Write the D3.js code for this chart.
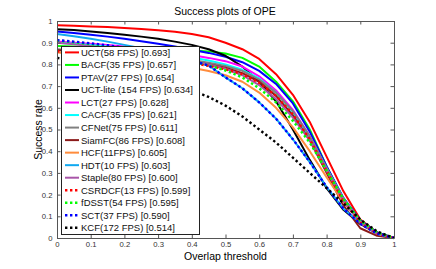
<!DOCTYPE html>
<html>
<head>
<meta charset="utf-8">
<script src="https://d3js.org/d3.v7.min.js"></script>
<style>
  body { margin: 0; background: #fff; }
  svg { display: block; font-family: "Liberation Sans", Arial, sans-serif; }
</style>
</head>
<body>
<svg id="canvas" width="436" height="269"></svg>
<script>
"use strict"

// overlap thresholds
const thresholds = [0, 0.05, 0.1, 0.15, 0.2, 0.25, 0.3, 0.35, 0.4, 0.45, 0.5,
  0.55, 0.6, 0.65, 0.7, 0.75, 0.8, 0.85, 0.9, 0.95, 1]

const trackerNames = ["UCT(58 FPS) [0.693]", "BACF(35 FPS) [0.657]", "PTAV(27 FPS) [0.654]",
  "UCT-lite (154 FPS) [0.634]", "LCT(27 FPS) [0.628]", "CACF(35 FPS) [0.621]",
  "CFNet(75 FPS) [0.611]", "SiamFC(86 FPS) [0.608]", "HCF(11FPS) [0.605]",
  "HDT(10 FPS) [0.603]", "Staple(80 FPS) [0.600]", "CSRDCF(13 FPS) [0.599]",
  "fDSST(54 FPS) [0.595]", "SCT(37 FPS) [0.590]", "KCF(172 FPS) [0.514]"]

const uct = [0.98, 0.978, 0.975, 0.972, 0.968, 0.963, 0.957, 0.95, 0.94, 0.925, 0.9, 0.87, 0.825, 0.755, 0.66, 0.535, 0.375, 0.215, 0.085, 0.025, 0]
const bacf = [0.885, 0.882, 0.879, 0.876, 0.873, 0.87, 0.868, 0.866, 0.864, 0.86, 0.85, 0.83, 0.79, 0.72, 0.63, 0.5, 0.33, 0.18, 0.08, 0.025, 0]
const ptav = [0.952, 0.945, 0.937, 0.928, 0.918, 0.907, 0.895, 0.882, 0.868, 0.853, 0.835, 0.81, 0.77, 0.71, 0.62, 0.49, 0.33, 0.185, 0.08, 0.025, 0]
const uctLite = [0.962, 0.958, 0.952, 0.945, 0.937, 0.928, 0.918, 0.905, 0.89, 0.87, 0.84, 0.79, 0.72, 0.63, 0.5, 0.36, 0.23, 0.13, 0.065, 0.02, 0]
const lct = [0.905, 0.9, 0.895, 0.889, 0.882, 0.874, 0.865, 0.855, 0.843, 0.83, 0.815, 0.79, 0.745, 0.68, 0.59, 0.47, 0.32, 0.18, 0.075, 0.02, 0]
const cacf = [0.9, 0.895, 0.889, 0.882, 0.874, 0.865, 0.855, 0.844, 0.832, 0.818, 0.8, 0.775, 0.735, 0.67, 0.58, 0.465, 0.32, 0.18, 0.075, 0.02, 0]
const cfnet = [0.87, 0.866, 0.862, 0.857, 0.851, 0.845, 0.838, 0.83, 0.82, 0.808, 0.793, 0.77, 0.73, 0.67, 0.585, 0.47, 0.32, 0.18, 0.075, 0.02, 0]
const siamfc = [0.865, 0.862, 0.858, 0.853, 0.847, 0.84, 0.832, 0.823, 0.812, 0.8, 0.785, 0.76, 0.72, 0.655, 0.565, 0.45, 0.3, 0.15, 0.045, 0.01, 0]
const hcf = [0.855, 0.85, 0.845, 0.838, 0.83, 0.82, 0.81, 0.798, 0.785, 0.77, 0.75, 0.72, 0.67, 0.6, 0.51, 0.4, 0.28, 0.165, 0.075, 0.02, 0]
const hdt = [0.94, 0.93, 0.918, 0.905, 0.89, 0.874, 0.857, 0.838, 0.818, 0.795, 0.74, 0.69, 0.625, 0.55, 0.455, 0.35, 0.235, 0.135, 0.07, 0.02, 0]
const staple = [0.9, 0.893, 0.885, 0.876, 0.866, 0.855, 0.843, 0.83, 0.815, 0.8, 0.78, 0.75, 0.705, 0.64, 0.555, 0.45, 0.31, 0.17, 0.07, 0.02, 0]
const csrdcf = [0.86, 0.856, 0.852, 0.847, 0.841, 0.834, 0.826, 0.817, 0.806, 0.793, 0.777, 0.755, 0.715, 0.655, 0.57, 0.455, 0.31, 0.17, 0.07, 0.02, 0]
const fdsst = [0.91, 0.902, 0.893, 0.883, 0.872, 0.86, 0.846, 0.831, 0.814, 0.795, 0.772, 0.74, 0.69, 0.625, 0.54, 0.44, 0.31, 0.18, 0.08, 0.025, 0]
const sct = [0.912, 0.905, 0.897, 0.888, 0.877, 0.864, 0.85, 0.835, 0.817, 0.795, 0.74, 0.69, 0.625, 0.55, 0.455, 0.35, 0.235, 0.135, 0.065, 0.02, 0]
const kcf = [0.83, 0.82, 0.8, 0.785, 0.765, 0.745, 0.725, 0.7, 0.68, 0.65, 0.61, 0.56, 0.5, 0.44, 0.37, 0.3, 0.23, 0.16, 0.085, 0.03, 0]

const trackerColors = ["#ff0000", "#00ff00", "#0000ff", "#000000", "#ff00ff", "#00ffff",
  "#808080", "#8b1a1a", "#ff8c3c", "#10a8f0", "#a855a8", "#ff0000", "#00ff00", "#0000ff", "#000000"]
const trackerDotted = [false, false, false, false, false, false, false, false, false, false, false,
  true, true, true, true]

const xTicks = [0, 0.1, 0.2, 0.3, 0.4, 0.5, 0.6, 0.7, 0.8, 0.9, 1]
const yTicks = [0, 0.1, 0.2, 0.3, 0.4, 0.5, 0.6, 0.7, 0.8, 0.9, 1]

function draw() {
  const series = [uct, bacf, ptav, uctLite, lct, cacf, cfnet, siamfc, hcf, hdt, staple, csrdcf, fdsst, sct, kcf]
  const $ = {
    left: 57, right: 394, top: 21, bottom: 238,
    axisColor: "#555",
  }

  const svg = d3.select("#canvas")
  const x = d3.scaleLinear().domain([0, 1]).range([$.left, $.right])
  const y = d3.scaleLinear().domain([0, 1]).range([$.bottom, $.top])

  svg.append("rect")
    .attr("x", $.left).attr("y", $.top)
    .attr("width", $.right - $.left).attr("height", $.bottom - $.top)
    .attr("fill", "#fff")

  // curves
  const line = d3.line()
    .x((d, i) => x(thresholds[i]))
    .y(d => y(d))

  svg.append("g")
    .selectAll("path")
    .data(series)
    .enter().append("path")
      .attr("d", line)
      .attr("fill", "none")
      .attr("stroke", (d, i) => trackerColors[i])
      .attr("stroke-width", (d, i) => trackerDotted[i] ? 2.4 : 2)
      .attr("stroke-dasharray", (d, i) => trackerDotted[i] ? "2.4,2.6" : null)
      .attr("stroke-linejoin", "round")

  // axes, matlab style: ticks inside, full box
  const tickLen = 3.5
  const axisBottom = d3.axisBottom(x).tickValues(xTicks).tickSizeInner(-tickLen).tickSizeOuter(0)
    .tickPadding(4).tickFormat(d3.format("~g"))
  const axisLeft = d3.axisLeft(y).tickValues(yTicks).tickSizeInner(-tickLen).tickSizeOuter(0)
    .tickPadding(4.5).tickFormat(d3.format("~g"))
  const axisTop = d3.axisTop(x).tickValues(xTicks).tickSizeInner(-tickLen).tickSizeOuter(0).tickFormat("")
  const axisRight = d3.axisRight(y).tickValues(yTicks).tickSizeInner(-tickLen).tickSizeOuter(0).tickFormat("")

  const gb = svg.append("g").attr("transform", `translate(0,${$.bottom})`).call(axisBottom)
  const gl = svg.append("g").attr("transform", `translate(${$.left},0)`).call(axisLeft)
  const gt = svg.append("g").attr("transform", `translate(0,${$.top})`).call(axisTop)
  const gr = svg.append("g").attr("transform", `translate(${$.right},0)`).call(axisRight)

  ;[gb, gl, gt, gr].forEach(g => {
    g.select(".domain").attr("stroke", $.axisColor).attr("stroke-width", 1)
    g.selectAll(".tick line").attr("stroke", $.axisColor)
    g.selectAll(".tick text")
      .attr("fill", "#333")
      .style("font-family", "Liberation Sans, Arial, sans-serif")
      .style("font-size", "7.7px")
  })

  // legend
  const lg = { x: 61, y: 46, w: 138, h: 188, row0: 52.4, rowStep: 12.53 }
  svg.append("rect")
    .attr("x", lg.x + 0.5).attr("y", lg.y + 0.5)
    .attr("width", lg.w).attr("height", lg.h)
    .attr("fill", "#fff").attr("stroke", "#222").attr("stroke-width", 1)

  const items = svg.append("g")
    .selectAll("g")
    .data(trackerNames)
    .enter().append("g")
      .attr("transform", (d, i) => `translate(0,${lg.row0 + i * lg.rowStep})`)

  items.append("line")
    .attr("x1", 65).attr("x2", 79)
    .attr("stroke", (d, i) => trackerColors[i])
    .attr("stroke-width", (d, i) => trackerDotted[i] ? 2.4 : 2)
    .attr("stroke-dasharray", (d, i) => trackerDotted[i] ? "2.4,2.6" : null)

  items.append("text")
    .attr("x", 81).attr("y", 3.4)
    .attr("font-size", "9.5px")
    .attr("fill", "#111")
    .text(d => d)

  // titles
  svg.append("text")
    .attr("x", 225).attr("y", 14.5)
    .attr("text-anchor", "middle")
    .attr("font-size", "10.5px")
    .text("Success plots of OPE")

  svg.append("text")
    .attr("x", 225.5).attr("y", 259.5)
    .attr("text-anchor", "middle")
    .attr("font-size", "10.5px")
    .text("Overlap threshold")

  svg.append("text")
    .attr("transform", `translate(41.5,${($.top + $.bottom) / 2}) rotate(-90)`)
    .attr("text-anchor", "middle")
    .attr("font-size", "10.5px")
    .text("Success rate")
}

draw()
</script>
</body>
</html>
